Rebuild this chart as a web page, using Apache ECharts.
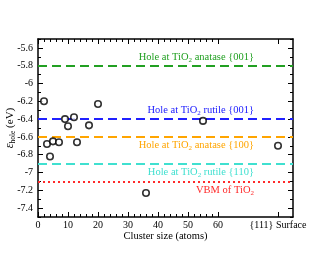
<!DOCTYPE html>
<html><head><meta charset="utf-8">
<script src="https://cdn.jsdelivr.net/npm/echarts@6/dist/echarts.min.js"></script>
<style>html,body{margin:0;padding:0;background:#fff}#c{width:329px;height:256px}</style>
</head><body><div id="c"></div>
<script>
const clusterSizes = [2, 3, 4, 5, 7, 9, 10, 12, 13, 17, 20, 36, 55, 80];
const holeEnergies = [-6.20, -6.68, -6.82, -6.65, -6.66, -6.40, -6.48, -6.38, -6.66, -6.47, -6.23, -7.23, -6.42, -6.70];
const refValues = [-5.8, -6.4, -6.6, -6.9, -7.1];
const refLabels = ['Hole at TiO{sub|2} anatase {001}', 'Hole at TiO{sub|2} rutile {001}', 'Hole at TiO{sub|2} anatase {100}', 'Hole at TiO{sub|2} rutile {110}', 'VBM of TiO{sub|2}'];
const refColors = ['#22a022', '#2020ff', '#ffa500', '#40e0d0', '#ff2a2a'];
const xMajorTicks = [0, 10, 20, 30, 40, 50, 60, 80];
const xMinorTicks = [2,4,6,8,12,14,16,18,22,24,26,28,32,34,36,38,42,44,46,48,52,54,56,58];
const surfaceLabel = '{111} Surface';
const yMajorTicks = [-7.4, -7.2, -7.0, -6.8, -6.6, -6.4, -6.2, -6.0, -5.8, -5.6];
const yMinorTicks = [-7.5, -7.3, -7.1, -6.9, -6.7, -6.5, -6.3, -6.1, -5.9, -5.7, -5.5];

const FONT = 'Liberation Serif';
const chart = echarts.init(document.getElementById('c'));
const lineW = 1.5;
function xAxisDef(pos, vals, len, labels, line) {
  return {
    type: 'value', position: pos, min: 0, max: 85,
    axisLine: {show: line, onZero: false, lineStyle: {color: '#000', width: lineW}},
    splitLine: {show: false},
    axisTick: {show: true, inside: true, length: len, customValues: vals, lineStyle: {color: '#000', width: 1}},
    axisLabel: labels ? {show: true, customValues: vals, margin: 3, fontFamily: FONT, fontSize: 10, color: '#000',
      formatter: v => (v === 80 ? surfaceLabel : String(v))} : {show: false}
  };
}
function yAxisDef(pos, vals, len, labels, line) {
  return {
    type: 'value', position: pos, min: -7.5, max: -5.5,
    axisLine: {show: line, onZero: false, lineStyle: {color: '#000', width: lineW}},
    splitLine: {show: false},
    axisTick: {show: true, inside: true, length: len, customValues: vals, lineStyle: {color: '#000', width: 1}},
    axisLabel: labels ? {show: true, customValues: vals, margin: 5, fontFamily: FONT, fontSize: 10, color: '#000',
      formatter: v => String(Math.round(v * 10) / 10)} : {show: false}
  };
}
const xAxes = [xAxisDef('bottom', xMajorTicks, 5, true, true), xAxisDef('bottom', xMinorTicks, 3, false, false),
  xAxisDef('top', xMajorTicks, 5, false, true), xAxisDef('top', xMinorTicks, 3, false, false)];
xAxes[0].name = 'Cluster size (atoms)';
xAxes[0].nameLocation = 'middle';
xAxes[0].nameGap = 14;
xAxes[0].nameMoveOverlap = false;
xAxes[0].nameTextStyle = {fontFamily: FONT, fontSize: 10.5, color: '#000'};
const yAxes = [yAxisDef('left', yMajorTicks, 5, true, true), yAxisDef('left', yMinorTicks, 3, false, false),
  yAxisDef('right', yMajorTicks, 5, false, true), yAxisDef('right', yMinorTicks, 3, false, false)];
yAxes[0].name = '{e|ε}{s|hole} {n|(eV)}';
yAxes[0].nameLocation = 'middle';
yAxes[0].nameGap = 21;
yAxes[0].nameMoveOverlap = false;
yAxes[0].nameTextStyle = {fontFamily: FONT, fontSize: 11, color: '#000', rich: {
  e: {fontFamily: FONT, fontSize: 12, fontStyle: 'italic', color: '#000', lineHeight: 14, verticalAlign: 'middle'},
  s: {fontFamily: FONT, fontSize: 7.5, color: '#000', lineHeight: 14, verticalAlign: 'bottom', padding: [6, 0, 0, 0]},
  n: {fontFamily: FONT, fontSize: 11, color: '#000', lineHeight: 14, verticalAlign: 'middle'}
}};

const markData = refValues.map((v, i) => ({
  yAxis: v,
  lineStyle: {color: refColors[i], width: 2, type: i === 4 ? [2, 3] : [9, 5]},
  label: {
    show: true,
    position: (i < 2) ? 'insideEndTop' : 'insideEndBottom',
    distance: 2,
    padding: [0, 37, 0, 0],
    color: refColors[i],
    fontFamily: FONT, fontSize: 10.5,
    formatter: () => refLabels[i],
    rich: {sub: {fontFamily: FONT, fontSize: 7, color: refColors[i], verticalAlign: 'bottom', lineHeight: 13, padding: [5, 0, 0, 0]}}
  }
}));

chart.setOption({
  animation: false,
  grid: {left: 38, right: 36, top: 39, bottom: 39, containLabel: false, outerBoundsMode: 'none'},
  xAxis: xAxes,
  yAxis: yAxes,
  series: [{
    type: 'scatter', xAxisIndex: 0, yAxisIndex: 0,
    data: clusterSizes.map((x, i) => [x, holeEnergies[i]]),
    symbol: 'circle', symbolSize: 6.5,
    itemStyle: {color: '#fff', borderColor: '#000', borderWidth: 1.6},
    z: 5,
    markLine: {silent: true, symbol: 'none', animation: false, data: markData}
  }]
});
</script></body></html>
